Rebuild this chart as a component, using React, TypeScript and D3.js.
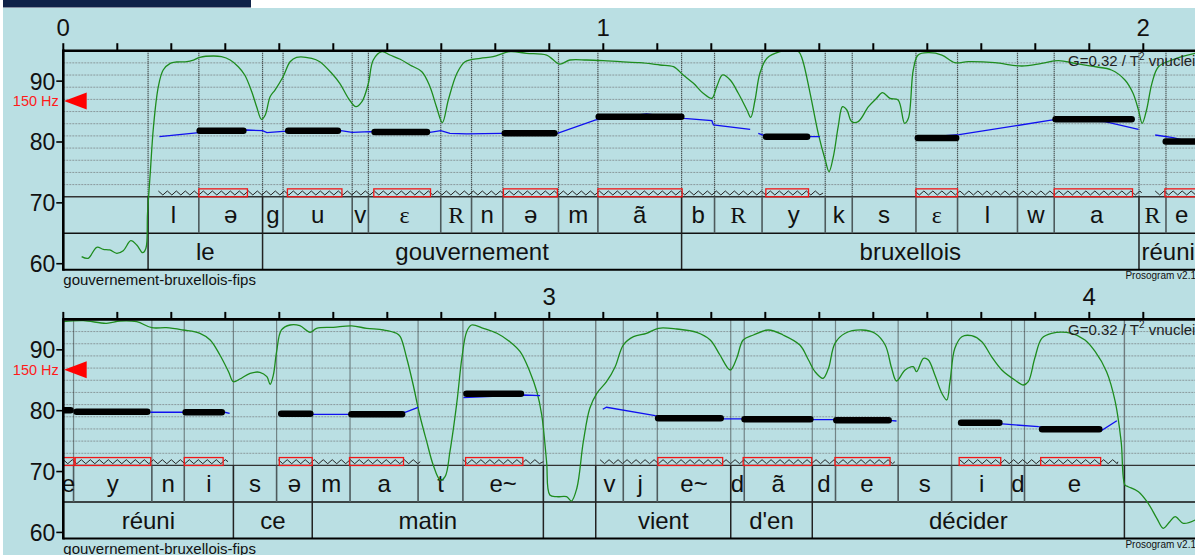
import React from 'react';
import * as d3 from 'd3';

const W = 1195;
const H = 555;

// two strips of 2.1 s each
const panelStarts = [0, 2.1];
const panelTops = [50.7, 319.4];
const panelSpan = 2.1;
const plotLeft = 63.3;
const plotRight = 1197.3;
const plotH = 219.1;

const yTicks = [60, 70, 80, 90];
const gridSt = [73, 75, 77, 79, 81, 83, 85, 87, 89, 91, 93];
const refSt = 86.74; // 150 Hz

// phoneme tier
const phonemeBounds = [
  0.157, 0.251, 0.369, 0.407, 0.535, 0.565, 0.699, 0.756, 0.814, 0.917, 0.990, 1.145,
  1.206, 1.294, 1.411, 1.461, 1.579, 1.656, 1.767, 1.835, 1.992, 2.042, 2.119, 2.264,
  2.324, 2.415, 2.495, 2.561, 2.631, 2.757, 2.840, 2.989, 3.086, 3.137, 3.200, 3.336,
  3.361, 3.487, 3.530, 3.646, 3.745, 3.856, 3.880, 4.065,
];
const phonemeLabels = [
  'l', 'ə', 'g', 'u', 'v', 'ε', 'R', 'n', 'ə', 'm', 'ã', 'b', 'R', 'y', 'k', 's', 'ε', 'l',
  'w', 'a', 'R', 'e', 'y', 'n', 'i', 's', 'ə', 'm', 'a', 't', 'e~', '', 'v', 'j', 'e~', 'd',
  'ã', 'd', 'e', 's', 'i', 'd', 'e',
];
const pauseEdges = [2.989, 3.086, 4.065];

// word tier
const wordBounds = [0.157, 0.369, 1.145, 1.992, 2.415, 2.561, 2.989, 3.086, 3.336, 3.487, 4.065];
const wordLabels = ['le', 'gouvernement', 'bruxellois', 'réuni', 'ce', 'matin', '', 'vient', "d'en", 'décider'];

// stylized nuclei: [start, end, semitones]
const nuclei = [
  [0.247, 0.339, 81.86], [0.411, 0.514, 81.86], [0.571, 0.679, 81.65], [0.812, 0.915, 81.43],
  [0.986, 1.150, 84.16], [1.296, 1.383, 80.87], [1.577, 1.659, 80.66], [1.832, 1.984, 83.73],
  [2.036, 2.119, 80.08], [2.119, 2.261, 79.84], [2.321, 2.399, 79.74], [2.498, 2.563, 79.51],
  [2.628, 2.733, 79.41], [2.841, 2.953, 82.79], [3.196, 3.323, 78.75], [3.356, 3.489, 78.59],
  [3.526, 3.634, 78.42], [3.757, 3.839, 78.03], [3.907, 4.024, 76.95],
];

// nucleus boxes (red)
const nucleusBoxes = [
  [0.251, 0.341], [0.415, 0.516], [0.575, 0.680], [0.815, 0.915], [0.990, 1.146], [1.301, 1.380],
  [1.579, 1.656], [1.835, 1.980], [2.040, 2.120], [2.122, 2.262], [2.324, 2.396], [2.500, 2.561],
  [2.630, 2.730], [2.845, 2.951], [3.201, 3.321], [3.359, 3.486], [3.529, 3.631], [3.759, 3.836],
  [3.910, 4.021],
];

// voiced stretches (zigzag)
const voiced = [
  [0.176, 1.407], [1.577, 1.997], [2.022, 2.405], [2.498, 2.761], [2.840, 2.989], [3.094, 3.640],
  [3.760, 4.053],
];

// blue intra-syllabic pitch
const blueA = [
  [0.178, 80.87], [0.251, 81.53], [0.340, 81.97], [0.369, 81.86], [0.377, 81.53], [0.407, 81.76],
  [0.514, 81.86], [0.535, 81.59], [0.568, 81.69], [0.679, 81.59], [0.699, 81.86], [0.716, 81.43],
  [0.747, 81.32], [0.812, 81.43], [0.915, 81.43], [0.986, 83.62], [1.080, 84.6], [1.149, 83.89],
  [1.201, 83.5], [1.204, 82.79], [1.272, 82.09],
];
const blueB = [[1.287, 81.43], [1.296, 81.15], [1.383, 80.87], [1.401, 80.87]];
const blueC = [[1.577, 80.66], [1.659, 81.2], [1.832, 83.62], [1.929, 83.34], [1.991, 82.09]];
const blueD = [[2.022, 81.15], [2.055, 80.71], [2.080, 80.2]];
const blueE = [[2.261, 79.74], [2.321, 79.74], [2.399, 79.74], [2.408, 79.57]];
const blueF = [[2.498, 79.46], [2.563, 79.41], [2.628, 79.41], [2.733, 79.74], [2.757, 80.56]];
const blueG = [[2.841, 82.14], [2.953, 82.58], [2.983, 82.47]];
const blueH = [
  [3.099, 80.23], [3.106, 80.56], [3.196, 79.18], [3.324, 78.64], [3.356, 78.64], [3.489, 78.52],
  [3.526, 78.52], [3.634, 78.36], [3.643, 78.31],
];
const blueI = [[3.757, 78.03], [3.839, 77.82], [3.906, 77.37], [4.024, 76.83], [4.051, 78.36]];
const blueSegments = [blueA, blueB, blueC, blueD, blueE, blueF, blueG, blueH, blueI];

// green F0 contour [s, semitones]
const f0 = [
  [0.034, 61.16], [0.046, 60.89], [0.062, 62.7], [0.074, 62.37], [0.086, 62.26], [0.099, 61.71],
  [0.111, 62.14], [0.125, 63.78], [0.136, 63.08], [0.147, 61.81], [0.153, 62.54], [0.156, 68.29],
  [0.161, 74.86], [0.167, 82.51], [0.176, 89.09], [0.185, 91.83], [0.198, 92.93], [0.210, 93.14],
  [0.229, 93.19], [0.241, 93.47], [0.253, 93.92], [0.278, 94.13], [0.293, 94.01], [0.309, 93.47],
  [0.324, 92.37], [0.336, 91.01], [0.349, 88.26], [0.358, 85.8], [0.367, 83.73], [0.374, 84.44],
  [0.383, 87.44], [0.392, 88.54], [0.407, 90.73], [0.420, 93.19], [0.432, 93.92], [0.460, 93.75],
  [0.475, 93.19], [0.497, 91.29], [0.512, 89.64], [0.528, 87.18], [0.542, 85.8], [0.553, 86.62],
  [0.565, 89.64], [0.574, 93.47], [0.590, 94.84], [0.605, 94.29], [0.624, 93.59], [0.642, 92.65],
  [0.664, 91.55], [0.679, 89.09], [0.691, 85.8], [0.702, 83.17], [0.713, 86.9], [0.729, 91.29],
  [0.744, 93.19], [0.772, 93.75], [0.796, 94.01], [0.827, 94.84], [0.858, 94.57], [0.895, 94.29],
  [0.919, 92.81], [0.938, 93.47], [0.969, 93.47], [1.000, 93.36], [1.031, 93.19], [1.068, 93.03],
  [1.105, 92.65], [1.130, 92.37], [1.148, 91.01], [1.167, 89.64], [1.185, 88.0], [1.201, 87.18],
  [1.210, 89.09], [1.221, 91.01], [1.235, 90.19], [1.250, 88.0], [1.266, 85.26], [1.273, 84.06],
  [1.281, 86.9], [1.290, 91.29], [1.303, 93.75], [1.327, 94.84], [1.346, 95.0], [1.362, 94.84],
  [1.369, 93.47], [1.383, 88.0], [1.398, 81.43], [1.411, 77.04], [1.418, 75.12], [1.426, 77.59],
  [1.435, 82.51], [1.443, 85.8], [1.451, 85.26], [1.460, 83.34], [1.472, 83.34], [1.491, 85.8],
  [1.506, 87.18], [1.517, 88.1], [1.531, 87.18], [1.546, 86.9], [1.558, 83.07], [1.565, 83.89],
  [1.574, 91.83], [1.583, 94.29], [1.602, 94.67], [1.627, 94.29], [1.651, 93.03], [1.676, 93.19],
  [1.725, 93.03], [1.775, 92.49], [1.812, 92.93], [1.843, 93.36], [1.874, 92.93], [1.910, 92.37],
  [1.941, 91.83], [1.966, 90.19], [1.981, 88.0], [1.991, 85.26], [1.998, 83.07], [2.006, 85.26],
  [2.016, 89.64], [2.028, 92.37], [2.053, 93.47], [2.096, 94.57], [2.100, 94.62], [2.137, 94.79],
  [2.180, 94.36], [2.205, 94.74], [2.236, 94.62], [2.264, 93.64], [2.291, 93.64], [2.322, 93.26],
  [2.353, 92.72], [2.372, 91.62], [2.390, 89.15], [2.406, 86.41], [2.415, 84.76], [2.427, 85.21],
  [2.446, 86.14], [2.464, 86.31], [2.477, 85.59], [2.483, 84.34], [2.489, 85.87], [2.495, 89.69],
  [2.504, 93.26], [2.520, 94.08], [2.538, 93.96], [2.557, 92.88], [2.569, 93.54], [2.600, 93.7],
  [2.634, 93.92], [2.662, 93.54], [2.693, 93.26], [2.717, 92.72], [2.724, 92.16], [2.736, 88.61],
  [2.748, 84.22], [2.760, 79.29], [2.773, 74.91], [2.785, 71.08], [2.798, 68.61], [2.807, 69.16],
  [2.816, 73.26], [2.829, 81.48], [2.838, 88.61], [2.847, 92.98], [2.856, 94.08], [2.878, 93.54],
  [2.903, 92.72], [2.927, 91.34], [2.946, 89.69], [2.964, 86.41], [2.977, 83.12], [2.986, 79.29],
  [2.995, 71.62], [3.001, 66.15], [3.014, 65.87], [3.032, 65.87], [3.041, 65.16], [3.051, 67.25],
  [3.063, 74.91], [3.075, 80.39], [3.088, 82.86], [3.106, 84.76], [3.122, 87.23], [3.137, 90.79],
  [3.156, 92.16], [3.180, 92.72], [3.202, 93.54], [3.236, 93.42], [3.273, 92.88], [3.298, 91.62],
  [3.316, 89.15], [3.335, 86.69], [3.347, 88.61], [3.359, 91.62], [3.378, 92.44], [3.406, 93.26],
  [3.433, 92.44], [3.464, 90.79], [3.480, 88.33], [3.492, 86.41], [3.507, 85.32], [3.517, 86.97],
  [3.529, 91.07], [3.548, 92.72], [3.579, 93.26], [3.603, 92.72], [3.622, 90.79], [3.634, 86.97],
  [3.643, 84.88], [3.659, 86.69], [3.674, 87.23], [3.680, 86.41], [3.693, 88.61], [3.702, 88.33],
  [3.714, 85.87], [3.727, 82.86], [3.736, 81.76], [3.742, 84.76], [3.751, 90.25], [3.764, 92.16],
  [3.782, 92.32], [3.801, 91.34], [3.819, 88.87], [3.838, 86.69], [3.862, 85.04], [3.878, 84.22],
  [3.887, 84.76], [3.899, 88.61], [3.912, 91.89], [3.930, 92.72], [3.967, 92.72], [3.992, 91.62],
  [4.011, 89.69], [4.032, 86.41], [4.048, 81.48], [4.059, 74.91], [4.066, 67.79], [4.072, 67.51],
  [4.091, 66.69], [4.109, 64.79], [4.125, 62.32], [4.137, 60.68], [4.149, 61.76], [4.159, 62.59],
  [4.174, 61.5], [4.196, 62.04],
];

const SANS = '"Liberation Sans", Arial, sans-serif';
const SERIF = '"Liberation Serif", "Times New Roman", serif';
const serifGlyphs = new Set(['R', 'ε']);

function zigzagPath(x1: number, x2: number, yMid: number) {
  const pts: [number, number][] = [];
  let up = true;
  for (let x = x1; x < x2; x += 4.5) {
    pts.push([x, yMid + (up ? -2 : 2)]);
    up = !up;
  }
  pts.push([x2, yMid]);
  return d3.line()(pts) || '';
}

function Panel({ idx }: { idx: number }) {
  const t0 = panelStarts[idx];
  const t1 = t0 + panelSpan;
  const top = panelTops[idx];
  const x = d3.scaleLinear().domain([t0, t1]).range([plotLeft, plotRight]);
  const y = d3.scaleLinear().domain([95, 59]).range([top, top + plotH]);
  const inside = (t: number) => t > t0 + 1e-6 && t < t1 - 1e-6;
  const clipId = `clip-${idx}`;

  const green = d3
    .line<number[]>()
    .x((d) => x(d[0]))
    .y((d) => y(d[1]))
    .curve(d3.curveCatmullRom.alpha(0.5));
  const blue = d3
    .line<number[]>()
    .x((d) => x(d[0]))
    .y((d) => y(d[1]));

  const secTicks = d3.range(0, 22).map((i) => +(t0 + i * 0.1).toFixed(2));
  const secLabels = secTicks.filter((t) => Math.abs(t - Math.round(t)) < 1e-6);

  const interval = (a: number, b: number) => {
    const lo = Math.max(a, t0);
    const hi = Math.min(b, t1);
    return hi > lo ? [lo, hi] : null;
  };

  const wordBoundarySet = new Set(wordBounds);

  return (
    <g>
      <defs>
        <clipPath id={clipId}>
          <rect x={plotLeft} y={top} width={plotRight - plotLeft} height={plotH} />
        </clipPath>
      </defs>

      {/* grid */}
      {gridSt.map((s) => (
        <line key={s} x1={plotLeft} x2={plotRight} y1={y(s)} y2={y(s)} stroke="#8a999c" strokeWidth={1} strokeDasharray="2 1" />
      ))}

      {/* boundaries in the pitch area */}
      {phonemeBounds.filter(inside).map((b) =>
        pauseEdges.includes(b) ? (
          <line key={b} x1={x(b)} x2={x(b)} y1={y(95)} y2={y(71)} stroke="#6f7b7d" strokeWidth={1.4} />
        ) : (
          <line key={b} x1={x(b)} x2={x(b)} y1={y(95)} y2={y(71)} stroke="#2a2a2a" strokeWidth={1.2} strokeDasharray="1 1" />
        )
      )}

      {/* tiers */}
      <line x1={plotLeft} x2={plotRight} y1={y(71)} y2={y(71)} stroke="#333" strokeWidth={1.3} />
      <line x1={plotLeft} x2={plotRight} y1={y(65)} y2={y(65)} stroke="#111" strokeWidth={1.5} />
      {phonemeBounds.filter(inside).map((b) => (
        <line key={b} x1={x(b)} x2={x(b)} y1={y(71)} y2={y(65)} stroke={wordBoundarySet.has(b) ? '#222' : '#4d5a5c'} strokeWidth={1.6} />
      ))}
      {wordBounds.filter(inside).map((b) => (
        <line key={b} x1={x(b)} x2={x(b)} y1={y(65)} y2={y(59)} stroke="#222" strokeWidth={1.5} />
      ))}
      {phonemeLabels.map((lab, i) => {
        const iv = interval(phonemeBounds[i], phonemeBounds[i + 1]);
        if (!iv || !lab) return null;
        return (
          <text key={i} x={x((iv[0] + iv[1]) / 2)} y={y(68) + 8.4} textAnchor="middle" fontSize={24} fontFamily={serifGlyphs.has(lab) ? SERIF : SANS} fill="#111">
            {lab}
          </text>
        );
      })}
      {wordLabels.map((lab, i) => {
        const iv = interval(wordBounds[i], wordBounds[i + 1]);
        if (!iv || !lab) return null;
        return (
          <text key={i} x={x((iv[0] + iv[1]) / 2)} y={y(62) + 8.4} textAnchor="middle" fontSize={24} fill="#111">
            {lab}
          </text>
        );
      })}

      <g clipPath={`url(#${clipId})`}>
        {/* voicing and nucleus boxes */}
        {voiced.map((v, i) => {
          const iv = interval(v[0], v[1]);
          if (!iv) return null;
          return <path key={i} d={zigzagPath(x(iv[0]), x(iv[1]), y(71.62))} fill="none" stroke="#222" strokeWidth={1} />;
        })}
        {nucleusBoxes.map((b, i) => (
          <rect key={i} x={x(b[0])} y={y(72.3)} width={x(b[1]) - x(b[0])} height={y(71) - y(72.3)} fill="none" stroke="#f01818" strokeWidth={1.3} />
        ))}

        <path d={green(f0) || ''} fill="none" stroke="#1e8c1e" strokeWidth={1.3} />
        {blueSegments.map((seg, i) => (
          <path key={i} d={blue(seg) || ''} fill="none" stroke="#1010f0" strokeWidth={1.3} />
        ))}
        {nuclei.map((n, i) => (
          <line key={i} x1={x(n[0]) + 3} x2={x(n[1]) - 3} y1={y(n[2])} y2={y(n[2])} stroke="#000" strokeWidth={6.5} strokeLinecap="round" />
        ))}
      </g>

      {/* frame */}
      <line x1={plotLeft} x2={plotRight} y1={top} y2={top} stroke="#000" strokeWidth={2.6} />
      <line x1={plotLeft} x2={plotRight} y1={y(59)} y2={y(59)} stroke="#000" strokeWidth={2} />
      <line x1={plotLeft} x2={plotLeft} y1={top - 1.3} y2={y(59) + 1} stroke="#000" strokeWidth={2.6} />

      {secTicks.map((t) => (
        <line key={t} x1={x(t)} x2={x(t)} y1={top - 7.5} y2={top} stroke="#000" strokeWidth={2} />
      ))}
      {secLabels.map((t) => (
        <text key={t} x={x(t)} y={top - 14.8} textAnchor="middle" fontSize={24} fill="#111">
          {Math.round(t)}
        </text>
      ))}

      {yTicks.map((s) => (
        <g key={s}>
          <line x1={plotLeft - 7} x2={plotLeft} y1={y(s)} y2={y(s)} stroke="#000" strokeWidth={1.6} />
          <text x={plotLeft - 8} y={y(s) + 8.4} textAnchor="end" fontSize={23} fill="#111">
            {s}
          </text>
        </g>
      ))}

      <path d={`M${plotLeft + 0.8},${y(refSt)} L${plotLeft + 23.4},${y(refSt) - 8.5} L${plotLeft + 23.4},${y(refSt) + 8.5} Z`} fill="#ff0000" />
      <text x={plotLeft - 4.5} y={y(refSt) + 5.2} textAnchor="end" fontSize={14.5} fill="#ff1a1a">
        150 Hz
      </text>

      <text x={1068} y={top + 15.5} fontSize={15} fill="#222">
        G=0.32 / T<tspan fontSize={10} dy={-6.5}>2</tspan>
        <tspan dy={6.5}> vnuclei</tspan>
      </text>

      <text x={plotLeft} y={y(59) + 15} fontSize={15} fill="#111">
        gouvernement-bruxellois-fips
      </text>
      <text x={1196} y={y(59) + 9.2} textAnchor="end" fontSize={10} fill="#111">
        Prosogram v2.1
      </text>
    </g>
  );
}

export default function App() {
  return (
    <div style={{ position: 'fixed', left: 0, top: 0 }}>
      <svg width={W} height={H} style={{ display: 'block' }} fontFamily={SANS}>
        <rect width={W} height={H} fill="#ffffff" />
        <rect x={3} y={8} width={W - 3} height={H - 8} fill="#badfe3" />
        <rect x={3} y={0} width={248} height={7.5} fill="#0f2248" />
        {panelStarts.map((_, i) => (
          <Panel key={i} idx={i} />
        ))}
      </svg>
    </div>
  );
}
